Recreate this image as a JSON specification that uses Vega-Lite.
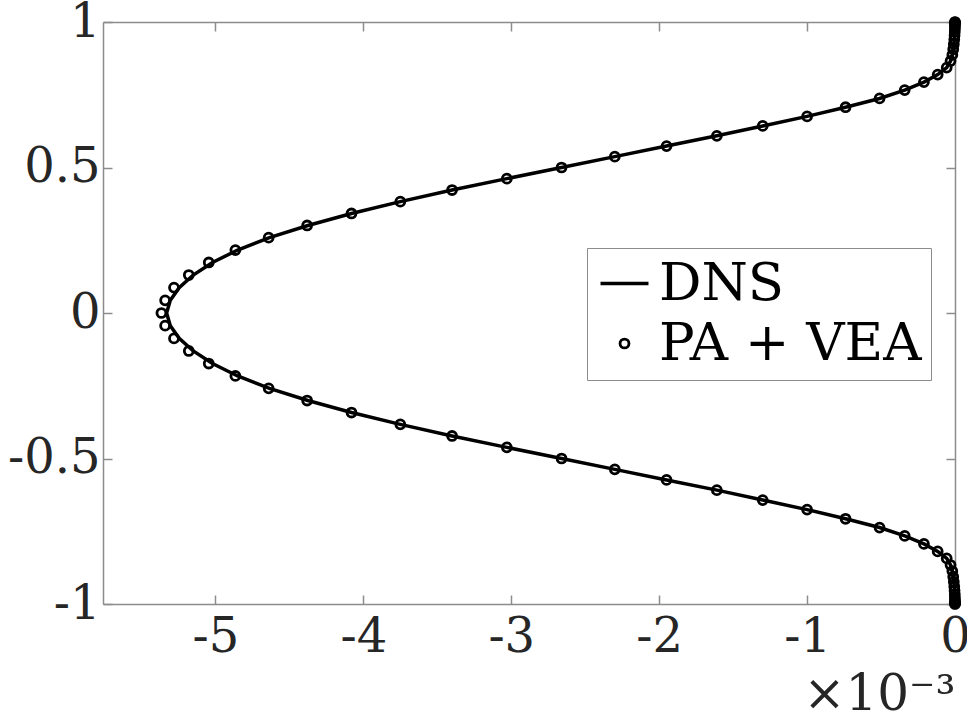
{
 "$schema": "https://vega.github.io/schema/vega-lite/v6.json",
 "width": 852, "height": 582,
 "autosize": {"type": "none"},
 "padding": {"left": 103, "top": 22, "right": 12, "bottom": 121},
 "background": "white",
 "datasets": {
  "dns": [
   {"y": 1, "u": 0}, {"y": 0.999, "u": 0}, {"y": 0.9962, "u": -0.0000001}, {"y": 0.9914, "u": -0.0000002}, {"y": 0.9848, "u": -0.0000004}, {"y": 0.9763, "u": -0.0000008}, {"y": 0.9659, "u": -0.0000015}, {"y": 0.9537, "u": -0.000003}, {"y": 0.9397, "u": -0.000005}, {"y": 0.9239, "u": -0.000008}, {"y": 0.9063, "u": -0.000012}, {"y": 0.887, "u": -0.000018}, {"y": 0.866, "u": -0.00003}, {"y": 0.8434, "u": -0.000056}, {"y": 0.8192, "u": -0.000117}, {"y": 0.7934, "u": -0.00021}, {"y": 0.766, "u": -0.00034}, {"y": 0.7373, "u": -0.00051}, {"y": 0.7071, "u": -0.00074}, {"y": 0.6756, "u": -0.001}, {"y": 0.6428, "u": -0.0013}, {"y": 0.6088, "u": -0.00161}, {"y": 0.5736, "u": -0.00195}, {"y": 0.5373, "u": -0.0023}, {"y": 0.5, "u": -0.00266}, {"y": 0.4617, "u": -0.00303}, {"y": 0.4226, "u": -0.0034}, {"y": 0.3827, "u": -0.00375}, {"y": 0.342, "u": -0.00408}, {"y": 0.3007, "u": -0.004375}, {"y": 0.2588, "u": -0.004635}, {"y": 0.2164, "u": -0.00485}, {"y": 0.1736, "u": -0.00502}, {"y": 0.1305, "u": -0.00515}, {"y": 0.0872, "u": -0.005245}, {"y": 0.0436, "u": -0.005305}, {"y": 0, "u": -0.00533},
   {"y": -0.0436, "u": -0.005305}, {"y": -0.0872, "u": -0.005245}, {"y": -0.1305, "u": -0.00515}, {"y": -0.1736, "u": -0.00502}, {"y": -0.2164, "u": -0.00485}, {"y": -0.2588, "u": -0.004635}, {"y": -0.3007, "u": -0.004375}, {"y": -0.342, "u": -0.00408}, {"y": -0.3827, "u": -0.00375}, {"y": -0.4226, "u": -0.0034}, {"y": -0.4617, "u": -0.00303}, {"y": -0.5, "u": -0.00266}, {"y": -0.5373, "u": -0.0023}, {"y": -0.5736, "u": -0.00195}, {"y": -0.6088, "u": -0.00161}, {"y": -0.6428, "u": -0.0013}, {"y": -0.6756, "u": -0.001}, {"y": -0.7071, "u": -0.00074}, {"y": -0.7373, "u": -0.00051}, {"y": -0.766, "u": -0.00034}, {"y": -0.7934, "u": -0.00021}, {"y": -0.8192, "u": -0.000117}, {"y": -0.8434, "u": -0.000056}, {"y": -0.866, "u": -0.00003}, {"y": -0.887, "u": -0.000018}, {"y": -0.9063, "u": -0.000012}, {"y": -0.9239, "u": -0.000008}, {"y": -0.9397, "u": -0.000005}, {"y": -0.9537, "u": -0.000003}, {"y": -0.9659, "u": -0.0000015}, {"y": -0.9763, "u": -0.0000008}, {"y": -0.9848, "u": -0.0000004}, {"y": -0.9914, "u": -0.0000002}, {"y": -0.9962, "u": -0.0000001}, {"y": -0.999, "u": 0}, {"y": -1, "u": 0}
  ],
  "pa": [
   {"s": "PA + VEA", "y": 1, "u": 0}, {"s": "PA + VEA", "y": 0.999, "u": 0}, {"s": "PA + VEA", "y": 0.9962, "u": -0.0000001}, {"s": "PA + VEA", "y": 0.9914, "u": -0.0000002}, {"s": "PA + VEA", "y": 0.9848, "u": -0.0000004}, {"s": "PA + VEA", "y": 0.9763, "u": -0.0000008}, {"s": "PA + VEA", "y": 0.9659, "u": -0.0000015}, {"s": "PA + VEA", "y": 0.9537, "u": -0.000003}, {"s": "PA + VEA", "y": 0.9397, "u": -0.000005}, {"s": "PA + VEA", "y": 0.9239, "u": -0.000008}, {"s": "PA + VEA", "y": 0.9063, "u": -0.000012}, {"s": "PA + VEA", "y": 0.887, "u": -0.000018}, {"s": "PA + VEA", "y": 0.866, "u": -0.00003}, {"s": "PA + VEA", "y": 0.8434, "u": -0.000056}, {"s": "PA + VEA", "y": 0.8192, "u": -0.000117}, {"s": "PA + VEA", "y": 0.7934, "u": -0.00021}, {"s": "PA + VEA", "y": 0.766, "u": -0.00034}, {"s": "PA + VEA", "y": 0.7373, "u": -0.00051}, {"s": "PA + VEA", "y": 0.7071, "u": -0.00074}, {"s": "PA + VEA", "y": 0.6756, "u": -0.001}, {"s": "PA + VEA", "y": 0.6428, "u": -0.0013}, {"s": "PA + VEA", "y": 0.6088, "u": -0.00161}, {"s": "PA + VEA", "y": 0.5736, "u": -0.00195}, {"s": "PA + VEA", "y": 0.5373, "u": -0.0023}, {"s": "PA + VEA", "y": 0.5, "u": -0.00266}, {"s": "PA + VEA", "y": 0.4617, "u": -0.00303}, {"s": "PA + VEA", "y": 0.4226, "u": -0.0034}, {"s": "PA + VEA", "y": 0.3827, "u": -0.00375}, {"s": "PA + VEA", "y": 0.342, "u": -0.00408}, {"s": "PA + VEA", "y": 0.3007, "u": -0.00438}, {"s": "PA + VEA", "y": 0.2588, "u": -0.00464}, {"s": "PA + VEA", "y": 0.2164, "u": -0.004865}, {"s": "PA + VEA", "y": 0.1736, "u": -0.005045}, {"s": "PA + VEA", "y": 0.1305, "u": -0.00518}, {"s": "PA + VEA", "y": 0.0872, "u": -0.00528}, {"s": "PA + VEA", "y": 0.0436, "u": -0.00534}, {"s": "PA + VEA", "y": 0, "u": -0.005365},
   {"s": "PA + VEA", "y": -0.0436, "u": -0.00534}, {"s": "PA + VEA", "y": -0.0872, "u": -0.00528}, {"s": "PA + VEA", "y": -0.1305, "u": -0.00518}, {"s": "PA + VEA", "y": -0.1736, "u": -0.005045}, {"s": "PA + VEA", "y": -0.2164, "u": -0.004865}, {"s": "PA + VEA", "y": -0.2588, "u": -0.00464}, {"s": "PA + VEA", "y": -0.3007, "u": -0.00438}, {"s": "PA + VEA", "y": -0.342, "u": -0.00408}, {"s": "PA + VEA", "y": -0.3827, "u": -0.00375}, {"s": "PA + VEA", "y": -0.4226, "u": -0.0034}, {"s": "PA + VEA", "y": -0.4617, "u": -0.00303}, {"s": "PA + VEA", "y": -0.5, "u": -0.00266}, {"s": "PA + VEA", "y": -0.5373, "u": -0.0023}, {"s": "PA + VEA", "y": -0.5736, "u": -0.00195}, {"s": "PA + VEA", "y": -0.6088, "u": -0.00161}, {"s": "PA + VEA", "y": -0.6428, "u": -0.0013}, {"s": "PA + VEA", "y": -0.6756, "u": -0.001}, {"s": "PA + VEA", "y": -0.7071, "u": -0.00074}, {"s": "PA + VEA", "y": -0.7373, "u": -0.00051}, {"s": "PA + VEA", "y": -0.766, "u": -0.00034}, {"s": "PA + VEA", "y": -0.7934, "u": -0.00021}, {"s": "PA + VEA", "y": -0.8192, "u": -0.000117}, {"s": "PA + VEA", "y": -0.8434, "u": -0.000056}, {"s": "PA + VEA", "y": -0.866, "u": -0.00003}, {"s": "PA + VEA", "y": -0.887, "u": -0.000018}, {"s": "PA + VEA", "y": -0.9063, "u": -0.000012}, {"s": "PA + VEA", "y": -0.9239, "u": -0.000008}, {"s": "PA + VEA", "y": -0.9397, "u": -0.000005}, {"s": "PA + VEA", "y": -0.9537, "u": -0.000003}, {"s": "PA + VEA", "y": -0.9659, "u": -0.0000015}, {"s": "PA + VEA", "y": -0.9763, "u": -0.0000008}, {"s": "PA + VEA", "y": -0.9848, "u": -0.0000004}, {"s": "PA + VEA", "y": -0.9914, "u": -0.0000002}, {"s": "PA + VEA", "y": -0.9962, "u": -0.0000001}, {"s": "PA + VEA", "y": -0.999, "u": 0}, {"s": "PA + VEA", "y": -1, "u": 0}
  ]
 },
 "layer": [
  {
   "data": {"name": "dns"},
   "mark": {"type": "line", "color": "black", "strokeWidth": 3.5},
   "encoding": {
    "x": {"field": "u", "type": "quantitative", "scale": {"domain": [-0.00576, 0], "nice": false, "zero": false},
      "axis": {"orient": "bottom", "values": [-0.005, -0.004, -0.003, -0.002, -0.001, 0], "labelExpr": "datum.value == 0 ? '0' : '-' + format(abs(datum.value) * 1000, '.0f')", "labelPadding": 18, "title": "×10⁻³", "titleAnchor": "end", "titleAlign": "right", "titlePadding": 8}},
    "y": {"field": "y", "type": "quantitative", "scale": {"domain": [-1, 1], "nice": false},
      "axis": {"orient": "left", "values": [-1, -0.5, 0, 0.5, 1], "labelExpr": "'' + datum.value", "labelPadding": 12, "title": null}},
    "order": {"field": "y", "type": "quantitative"}
   }
  },
  {
   "data": {"name": "pa"},
   "mark": {"type": "point", "filled": false, "color": "black", "opacity": 1},
   "encoding": {
    "x": {"field": "u", "type": "quantitative", "scale": {"domain": [-0.00576, 0], "nice": false, "zero": false},
      "axis": {"orient": "top", "values": [-0.005, -0.004, -0.003, -0.002, -0.001, 0], "labels": false, "title": null}},
    "y": {"field": "y", "type": "quantitative", "scale": {"domain": [-1, 1], "nice": false},
      "axis": {"orient": "right", "values": [-1, -0.5, 0, 0.5, 1], "labels": false, "title": null}},
    "shape": {"field": "s", "type": "nominal", "scale": {"domain": ["DNS", "PA + VEA"], "range": ["stroke", "circle"]},
      "legend": {"title": null, "orient": "none", "legendX": 484, "legendY": 226,
        "strokeColor": "#8c8c8c", "fillColor": "white", "padding": 9,
        "labelFont": "DejaVu Serif", "labelFontSize": 53, "labelColor": "black", "labelLimit": 0,
        "symbolStrokeColor": "black", "symbolFillColor": "transparent",
        "symbolOffset": 2, "labelOffset": 8, "rowPadding": 6}},
    "size": {"field": "s", "type": "nominal", "scale": {"domain": ["DNS", "PA + VEA"], "range": [2300, 80]}},
    "strokeWidth": {"field": "s", "type": "nominal", "scale": {"domain": ["DNS", "PA + VEA"], "range": [3.5, 2.8]}}
   }
  }
 ],
 "resolve": {"axis": {"x": "independent", "y": "independent"}},
 "config": {
  "view": {"stroke": null},
  "axis": {"domainColor": "#8c8c8c", "tickColor": "#8c8c8c", "domainWidth": 1.5, "tickWidth": 1.5, "tickSize": -9, "grid": false,
   "labelFont": "DejaVu Serif", "labelFontSize": 48, "labelColor": "#262626", "labelOverlap": false, "labelBound": false, "labelFlush": false,
   "titleFont": "DejaVu Serif", "titleFontSize": 50, "titleFontWeight": "normal", "titleColor": "#262626"}
 }
}
